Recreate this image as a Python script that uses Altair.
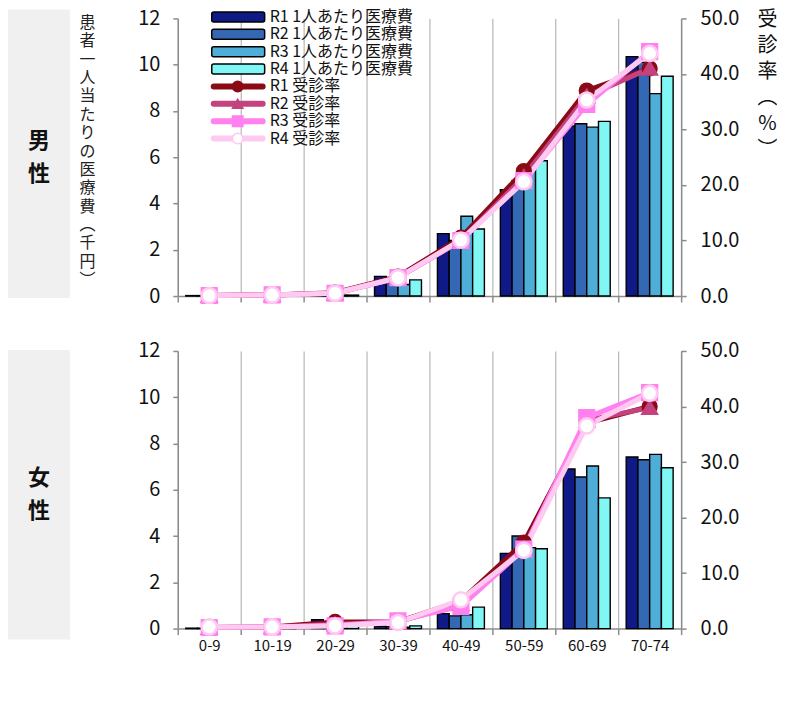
import altair as alt
import pandas as pd

FONT = "Noto Sans CJK JP"

categories = ["0-9", "10-19", "20-29", "30-39", "40-49", "50-59", "60-69", "70-74"]
cost_series = ["R1 1人あたり医療費", "R2 1人あたり医療費", "R3 1人あたり医療費", "R4 1人あたり医療費"]
rate_series = ["R1 受診率", "R2 受診率", "R3 受診率", "R4 受診率"]
panel_labels = ["男性", "女性"]
left_title = ["患", "者", "一", "人", "当", "た", "り", "の", "医", "療", "費", "︵", "千", "円", "︶"]
right_title = ["受", "診", "率", "︵", "%", "︶"]
cost_ticks = [0, 2, 4, 6, 8, 10, 12]
rate_ticks = [0, 10, 20, 30, 40, 50]

# 男性 患者一人当たりの医療費（千円）
male_cost_r1 = [0.02, 0.02, 0.05, 0.85, 2.70, 4.60, 7.35, 10.35]
male_cost_r2 = [0.02, 0.02, 0.05, 0.60, 2.40, 5.00, 7.45, 10.10]
male_cost_r3 = [0.02, 0.02, 0.04, 0.50, 3.45, 5.40, 7.30, 8.75]
male_cost_r4 = [0.02, 0.02, 0.04, 0.70, 2.90, 5.85, 7.55, 9.50]
# 男性 受診率（%）
male_rate_r1 = [0.1, 0.2, 0.6, 3.5, 10.5, 22.5, 37.0, 41.0]
male_rate_r2 = [0.1, 0.2, 0.5, 3.3, 10.0, 21.5, 36.0, 41.0]
male_rate_r3 = [0.1, 0.2, 0.5, 3.3, 10.0, 20.8, 34.5, 44.0]
male_rate_r4 = [0.1, 0.2, 0.5, 3.3, 10.1, 20.6, 35.3, 43.7]

# 女性 患者一人当たりの医療費（千円）
female_cost_r1 = [0.02, 0.02, 0.38, 0.10, 0.65, 3.25, 6.90, 7.42]
female_cost_r2 = [0.02, 0.02, 0.15, 0.08, 0.55, 4.00, 6.55, 7.30]
female_cost_r3 = [0.02, 0.02, 0.12, 0.06, 0.60, 3.50, 7.03, 7.53]
female_cost_r4 = [0.02, 0.02, 0.10, 0.12, 0.93, 3.45, 5.65, 6.95]
# 女性 受診率（%）
female_rate_r1 = [0.2, 0.3, 1.2, 1.2, 5.0, 15.5, 37.0, 40.0]
female_rate_r2 = [0.2, 0.3, 0.8, 1.2, 4.5, 14.5, 37.5, 39.8]
female_rate_r3 = [0.2, 0.3, 0.5, 1.4, 4.0, 14.3, 38.0, 42.5]
female_rate_r4 = [0.3, 0.3, 0.5, 1.1, 5.2, 14.1, 36.5, 42.4]

bar_colors = ["#101a87", "#3468b4", "#4faed8", "#80f7f5"]
line_colors = ["#8a0a16", "#c4427e", "#ff80ee", "#ffcaf2"]
marker_fill = ["#8a0a16", "#c4427e", "#ff80ee", "#ffffff"]
marker_shapes = ["circle", "triangle-up", "square", "circle"]
marker_sizes = [190, 230, 330, 280]

W, H = 504, 278


def long(lists, series):
    rows = []
    for s, vals in zip(series, lists):
        for c, v in zip(categories, vals):
            rows.append({"age": c, "series": s, "value": v})
    return pd.DataFrame(rows)


fill_scale = alt.Scale(domain=cost_series, range=bar_colors)
stroke_scale = alt.Scale(domain=rate_series, range=line_colors)
color_scale = alt.Scale(domain=rate_series, range=marker_fill)
shape_scale = alt.Scale(domain=rate_series, range=marker_shapes)
size_scale = alt.Scale(domain=rate_series, range=marker_sizes)


def panel(label, costs, rates, top):
    cost_df = long(costs, cost_series)
    rate_df = long(rates, rate_series)

    x_enc = alt.X(
        "age:N", sort=categories,
        scale=alt.Scale(domain=categories, paddingInner=0, paddingOuter=0),
        axis=alt.Axis(title=None, tickBand="extent", grid=True, gridColor="#a8a8a8",
                      gridWidth=1, domainColor="#8c8c8c", domainWidth=1.5,
                      tickColor="#8c8c8c", tickSize=6, tickWidth=1.5,
                      labels=not top, labelFont=FONT, labelFontSize=15,
                      labelColor="#111", labelPadding=4, labelAngle=0),
    )

    left_axis = alt.Axis(
        values=cost_ticks, grid=False, orient="left",
        domainColor="#8c8c8c", domainWidth=1.5, tickColor="#8c8c8c", tickSize=5,
        tickWidth=1.5, labelFont=FONT, labelFontSize=20, labelColor="#111",
        labelPadding=13,
        title=left_title if top else None,
        titleAngle=0, titleAlign="center", titleBaseline="top",
        titleX=-91, titleY=-4, titleFont=FONT, titleFontSize=16,
        titleFontWeight="normal", titleLineHeight=18.4, titleColor="#222",
    )
    right_axis = alt.Axis(
        values=rate_ticks, grid=False, orient="right", format=".1f",
        domainColor="#8c8c8c", domainWidth=1.5, tickColor="#8c8c8c", tickSize=5,
        tickWidth=1.5, labelFont=FONT, labelFontSize=20, labelColor="#111",
        labelPadding=14,
        title=right_title if top else None,
        titleAngle=0, titleAlign="center", titleBaseline="top",
        titleX=86, titleY=-9, titleFont=FONT, titleFontSize=20,
        titleFontWeight="normal", titleLineHeight=26, titleColor="#111",
    )

    bars = alt.Chart(cost_df).mark_bar(stroke="black", strokeWidth=1.4).encode(
        x=x_enc,
        xOffset=alt.XOffset("series:N", sort=cost_series,
                            scale=alt.Scale(domain=cost_series, paddingInner=0, paddingOuter=0.68)),
        y=alt.Y("value:Q", scale=alt.Scale(domain=[0, 12]), axis=left_axis),
        fill=alt.Fill("series:N", scale=fill_scale, legend=None),
    )

    lines = alt.Chart(rate_df).mark_line(strokeWidth=5, strokeCap="round", strokeJoin="round").encode(
        x=x_enc,
        y=alt.Y("value:Q", scale=alt.Scale(domain=[0, 50]), axis=right_axis),
        stroke=alt.Stroke("series:N", scale=stroke_scale, legend=None),
        detail="series:N",
    )
    points = alt.Chart(rate_df).mark_point(filled=True, strokeWidth=2.5, opacity=1).encode(
        x=x_enc,
        y=alt.Y("value:Q", scale=alt.Scale(domain=[0, 50]), axis=right_axis),
        stroke=alt.Stroke("series:N", scale=stroke_scale, legend=None),
        color=alt.Color("series:N", scale=color_scale, legend=None),
        shape=alt.Shape("series:N", scale=shape_scale, legend=None),
        size=alt.Size("series:N", scale=size_scale, legend=None),
    )
    rate_layer = alt.layer(lines, points)

    label_df = pd.DataFrame({"label": [label]})
    box = alt.Chart(label_df).mark_rect(fill="#f0f0f0").encode(
        x=alt.value(-170), x2=alt.value(-108),
        y=alt.value(-9 if top else -1), y2=alt.value(280 if top else 289),
    )
    side_text = alt.Chart(label_df).transform_calculate(
        t="join(split(datum.label, ''), '\\n')"
    ).mark_text(font=FONT, fontSize=22, fontWeight="bold", lineBreak="\n",
                lineHeight=33, baseline="middle", color="#111").encode(
        x=alt.value(-139), y=alt.value(123 if top else 127), text="t:N",
    )

    layers = [box, side_text, bars, rate_layer]

    if top:
        leg_df = pd.DataFrame({
            "label": cost_series + rate_series,
            "row": list(range(8)),
            "kind": ["bar"] * 4 + ["line"] * 4,
        })
        base = alt.Chart(leg_df).transform_calculate(
            py="-1.5 + 17.4 * datum.row", y0="-1.5 + 17.4 * datum.row - 5",
            y1="-1.5 + 17.4 * datum.row + 5",
        )
        leg_rect = base.transform_filter("datum.kind == 'bar'").mark_rect(
            stroke="black", strokeWidth=1.5, cornerRadius=2).encode(
            x=alt.value(34), x2=alt.value(87),
            y=alt.Y("y0:Q", scale=None), y2="y1:Q",
            fill=alt.Fill("label:N", scale=fill_scale, legend=None),
        )
        leg_line = base.transform_filter("datum.kind == 'line'").mark_rule(
            strokeWidth=6, strokeCap="round").encode(
            x=alt.value(36), x2=alt.value(85),
            y=alt.Y("py:Q", scale=None),
            stroke=alt.Stroke("label:N", scale=stroke_scale, legend=None),
        )
        leg_pt = base.transform_filter("datum.kind == 'line'").mark_point(
            filled=True, strokeWidth=1.5, opacity=1, size=110).encode(
            x=alt.value(60),
            y=alt.Y("py:Q", scale=None),
            stroke=alt.Stroke("label:N", scale=stroke_scale, legend=None),
            color=alt.Color("label:N", scale=color_scale, legend=None),
            shape=alt.Shape("label:N", scale=shape_scale, legend=None),
        )
        leg_text = base.mark_text(font=FONT, fontSize=16, align="left",
                                  baseline="middle", color="#111").encode(
            x=alt.value(92), y=alt.Y("py:Q", scale=None), text="label:N",
        )
        layers += [leg_rect, leg_line, leg_pt, leg_text]

    return alt.layer(*layers).resolve_scale(y="independent").properties(width=W, height=H)


top = panel(panel_labels[0],
            [male_cost_r1, male_cost_r2, male_cost_r3, male_cost_r4],
            [male_rate_r1, male_rate_r2, male_rate_r3, male_rate_r4], True)
bottom = panel(panel_labels[1],
               [female_cost_r1, female_cost_r2, female_cost_r3, female_cost_r4],
               [female_rate_r1, female_rate_r2, female_rate_r3, female_rate_r4], False)

chart = alt.vconcat(top, bottom, spacing=32).properties(
    padding=0, background="white"
).configure_view(stroke=None)

chart.save("out.html", embed_options={"renderer": "svg", "actions": False})
